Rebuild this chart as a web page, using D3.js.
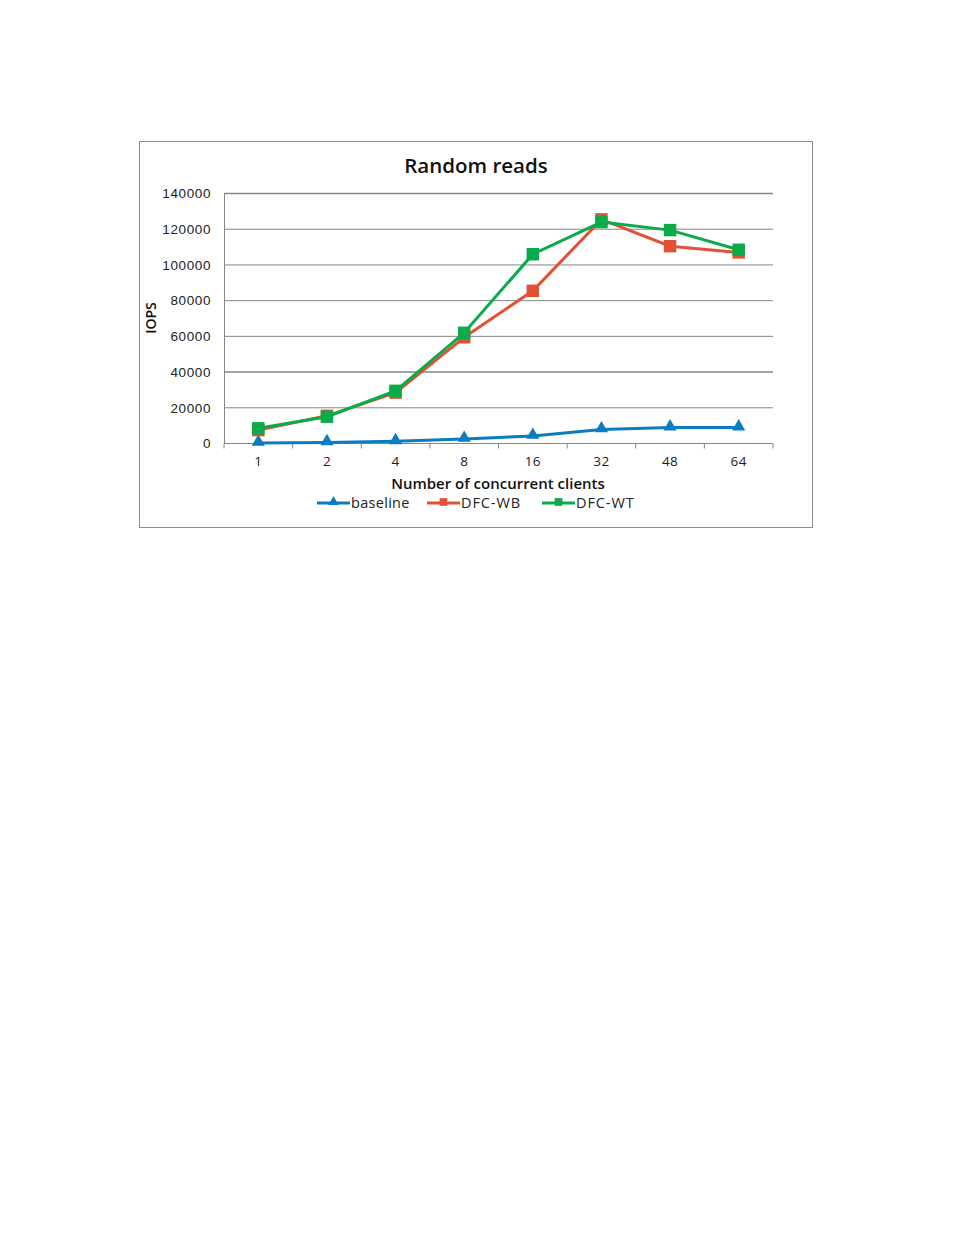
<!DOCTYPE html>
<html>
<head>
<meta charset="utf-8">
<script src="https://cdn.jsdelivr.net/npm/d3@7"></script>
<style>
  body { margin: 0; background: #fff; }
  svg { font-family: "Open Sans", Lato, sans-serif; }
</style>
</head>
<body>
<svg id="chart" width="954" height="1235"></svg>
<script>
// data
const clients = ["1", "2", "4", "8", "16", "32", "48", "64"];
const baseline = [300, 600, 1200, 2500, 4200, 7800, 8900, 8900];
const dfcWB = [7500, 15500, 28500, 59500, 85500, 125500, 110500, 107000];
const dfcWT = [8500, 15000, 29500, 62000, 106000, 124000, 119500, 108500];
const yTicks = [0, 20000, 40000, 60000, 80000, 100000, 120000, 140000];

const series = [
  { name: "baseline", values: baseline, color: "#0a7dc1", marker: "tri" },
  { name: "DFC-WB", values: dfcWB, color: "#e05233", marker: "sq" },
  { name: "DFC-WT", values: dfcWT, color: "#0aab4a", marker: "sq" }
];

const svg = d3.select("#chart");

// border of the chart area
svg.append("rect")
  .attr("x", 139.5).attr("y", 141.5)
  .attr("width", 673).attr("height", 386)
  .attr("fill", "#fff").attr("stroke", "#8c8c8c");

const x = d3.scaleBand().domain(clients).range([224, 773]);
const y = d3.scaleLinear().domain([0, 140000]).range([443.5, 193.5]);

// gridlines
svg.append("g").selectAll("line")
  .data(yTicks.filter(d => d > 0))
  .join("line")
  .attr("x1", 224).attr("x2", 773)
  .attr("y1", d => y(d)).attr("y2", d => y(d))
  .attr("stroke", "#868686")
  .attr("stroke-width", d => d == 40000 || d == 140000 ? 1.6 : 1);

// y axis
const yAxis = svg.append("g")
  .attr("transform", "translate(224,0)")
  .call(d3.axisLeft(y).tickValues(yTicks).tickSize(0).tickPadding(13).tickFormat(d3.format("d")));
yAxis.select(".domain").attr("stroke", "#868686");
yAxis.selectAll("text").attr("font-size", 13.5).attr("letter-spacing", 0.6).attr("fill", "#222");

// x axis, ticks between categories
const xAxis = svg.append("g").attr("transform", "translate(0,443.5)");
xAxis.append("line").attr("x1", 224).attr("x2", 773).attr("stroke", "#868686");
xAxis.selectAll("line.tk")
  .data(clients.map(c => x(c)).concat([773]))
  .join("line").attr("class", "tk")
  .attr("x1", d => d).attr("x2", d => d)
  .attr("y1", 0).attr("y2", 5)
  .attr("stroke", "#868686");
xAxis.selectAll("text")
  .data(clients)
  .join("text")
  .attr("x", d => x(d) + x.bandwidth() / 2)
  .attr("y", 22)
  .attr("text-anchor", "middle")
  .attr("font-size", 13.5).attr("letter-spacing", 0.4).attr("fill", "#222")
  .text(d => d);

// lines + markers
const line = d3.line()
  .x((d, i) => x(clients[i]) + x.bandwidth() / 2)
  .y(d => y(d));

series.forEach(s => {
  svg.append("path")
    .datum(s.values)
    .attr("d", line)
    .attr("fill", "none")
    .attr("stroke", s.color)
    .attr("stroke-width", 3);

  const sym = s.marker == "tri" ? d3.symbolTriangle : d3.symbolSquare;
  svg.append("g").selectAll("path")
    .data(s.values)
    .join("path")
    .attr("transform", (d, i) => `translate(${x(clients[i]) + x.bandwidth() / 2},${y(d) + (s.marker == "tri" ? -1 : 0)})`)
    .attr("d", d3.symbol().type(sym).size(s.marker == "tri" ? 75 : 155))
    .attr("fill", s.color);
});

// title and axis labels
svg.append("text")
  .attr("x", 476).attr("y", 173)
  .attr("text-anchor", "middle")
  .attr("font-size", 20.5).attr("font-weight", 600).attr("fill", "#111")
  .text("Random reads");

svg.append("text")
  .attr("transform", "translate(156,318) rotate(-90)")
  .attr("text-anchor", "middle")
  .attr("font-size", 14).attr("font-weight", 600).attr("fill", "#111")
  .text("IOPS");

svg.append("text")
  .attr("x", 498).attr("y", 489)
  .attr("text-anchor", "middle")
  .attr("font-size", 15).attr("font-weight", 600).attr("fill", "#111")
  .text("Number of concurrent clients");

// legend
const legendX = [317, 427, 542];
series.forEach((s, i) => {
  const g = svg.append("g").attr("transform", `translate(${legendX[i]},503)`);
  g.append("line").attr("x1", 0).attr("x2", 33).attr("stroke", s.color).attr("stroke-width", 3);
  g.append("path")
    .attr("transform", "translate(16.5,-1)")
    .attr("d", d3.symbol().type(s.marker == "tri" ? d3.symbolTriangle : d3.symbolSquare).size(s.marker == "tri" ? 45 : 60))
    .attr("fill", s.color);
  g.append("text")
    .attr("x", 34).attr("y", 5)
    .attr("font-size", 14.5).attr("letter-spacing", s.marker == "tri" ? 0.3 : 0.9).attr("fill", "#222")
    .text(s.name);
});
</script>
</body>
</html>
